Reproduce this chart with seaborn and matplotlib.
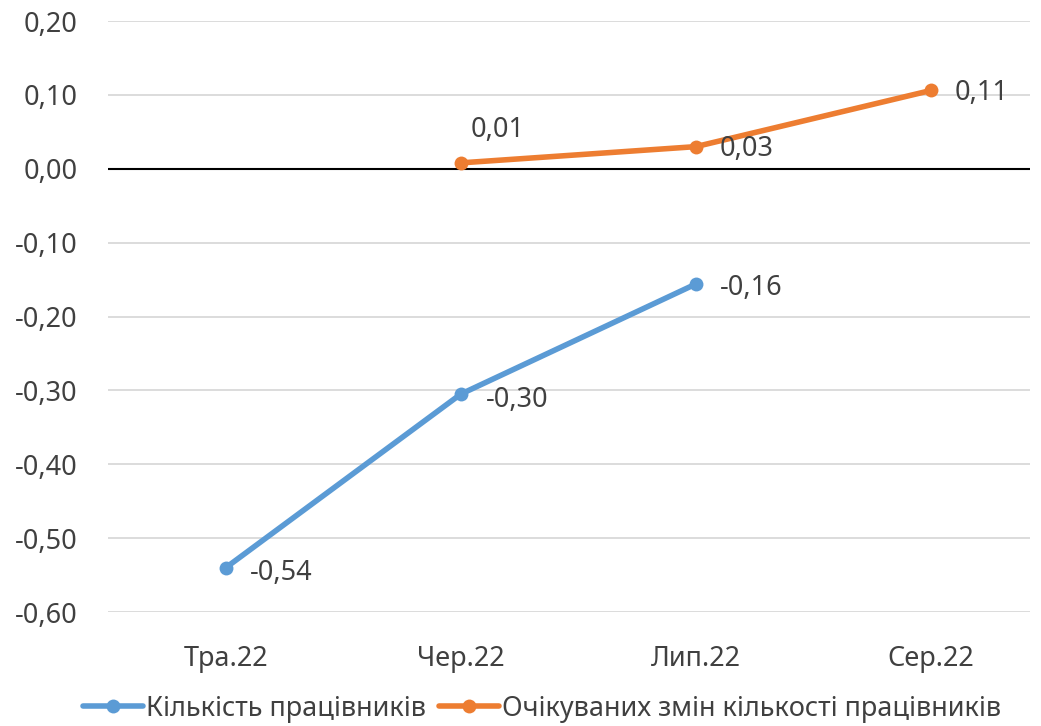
import matplotlib
matplotlib.use("Agg")
import matplotlib.pyplot as plt
import seaborn as sns
import pandas as pd

### Data ###
months = ["Тра.22", "Чер.22", "Лип.22", "Сер.22"]
staff_months = ["Тра.22", "Чер.22", "Лип.22"]
staff_values = [-0.54, -0.305, -0.156]
staff_labels = ["-0,54", "-0,30", "-0,16"]
exp_months = ["Чер.22", "Лип.22", "Сер.22"]
exp_values = [0.008, 0.030, 0.106]
exp_labels = ["0,01", "0,03", "0,11"]
series_names = ["Кількість працівників", "Очікуваних змін кількості працівників"]
y_ticks = [0.20, 0.10, 0.00, -0.10, -0.20, -0.30, -0.40, -0.50, -0.60]

df = pd.DataFrame({
    "month": staff_months + exp_months,
    "value": staff_values + exp_values,
    "series": [series_names[0]] * len(staff_months) + [series_names[1]] * len(exp_months),
})
df["month"] = pd.Categorical(df["month"], categories=months, ordered=True)
df["pos"] = df["month"].cat.codes

sns.set_theme(style="white")
plt.rcParams['font.family'] = ['Noto Sans', 'DejaVu Sans']
TEXT = "#404040"
FS = 19.5

fig = plt.figure(figsize=(10.41, 7.26), dpi=100)
ax = fig.add_axes([0.104, 0.157, 0.885, 0.814])

for y in y_ticks:
    if y == 0:
        continue
    ax.axhline(y, color="#d9d9d9", lw=1.3, zorder=0)
ax.axhline(0, color="black", lw=1.5, zorder=1)

palette = {series_names[0]: "#5b9bd5", series_names[1]: "#ed7d31"}
sns.lineplot(data=df, x="pos", y="value", hue="series", palette=palette,
             marker="o", markersize=10, markeredgewidth=0, linewidth=4,
             ax=ax, zorder=3)

# data labels
staff_off = [(17, -4), (18, -4), (17, -3)]
for m, v, lab, off in zip(staff_months, staff_values, staff_labels, staff_off):
    ax.annotate(lab, (months.index(m), v), xytext=off, textcoords="offset points",
                ha="left", va="center", fontsize=FS, color=TEXT)
exp_off = [(7, 24), (17, -2), (17, -1.5)]
for m, v, lab, off in zip(exp_months, exp_values, exp_labels, exp_off):
    ax.annotate(lab, (months.index(m), v), xytext=off, textcoords="offset points",
                ha="left", va="center", fontsize=FS, color=TEXT)

ax.set_xlim(-0.5, 3.42)
ax.set_ylim(-0.60, 0.20)
ax.set_xticks(range(len(months)))
ax.set_xticklabels(months)
ax.set_yticks(y_ticks)
ax.set_yticklabels([f"{t:.2f}".replace(".", ",") for t in y_ticks])
ax.tick_params(axis="both", labelsize=FS, colors=TEXT, length=0)
ax.tick_params(axis="x", pad=24)
ax.tick_params(axis="y", pad=22)
ax.set_xlabel("")
ax.set_ylabel("")
for s in ax.spines.values():
    s.set_visible(False)

handles, labels = ax.get_legend_handles_labels()
ax.get_legend().remove()
fig.legend(handles, labels, loc="center", bbox_to_anchor=(542 / 1041, 0.024),
           ncol=2, frameon=False, fontsize=FS, handlelength=2.2, handletextpad=0.1,
           columnspacing=0.5, labelcolor=TEXT, borderaxespad=0, borderpad=0)

fig.savefig("out.png", dpi=100)
